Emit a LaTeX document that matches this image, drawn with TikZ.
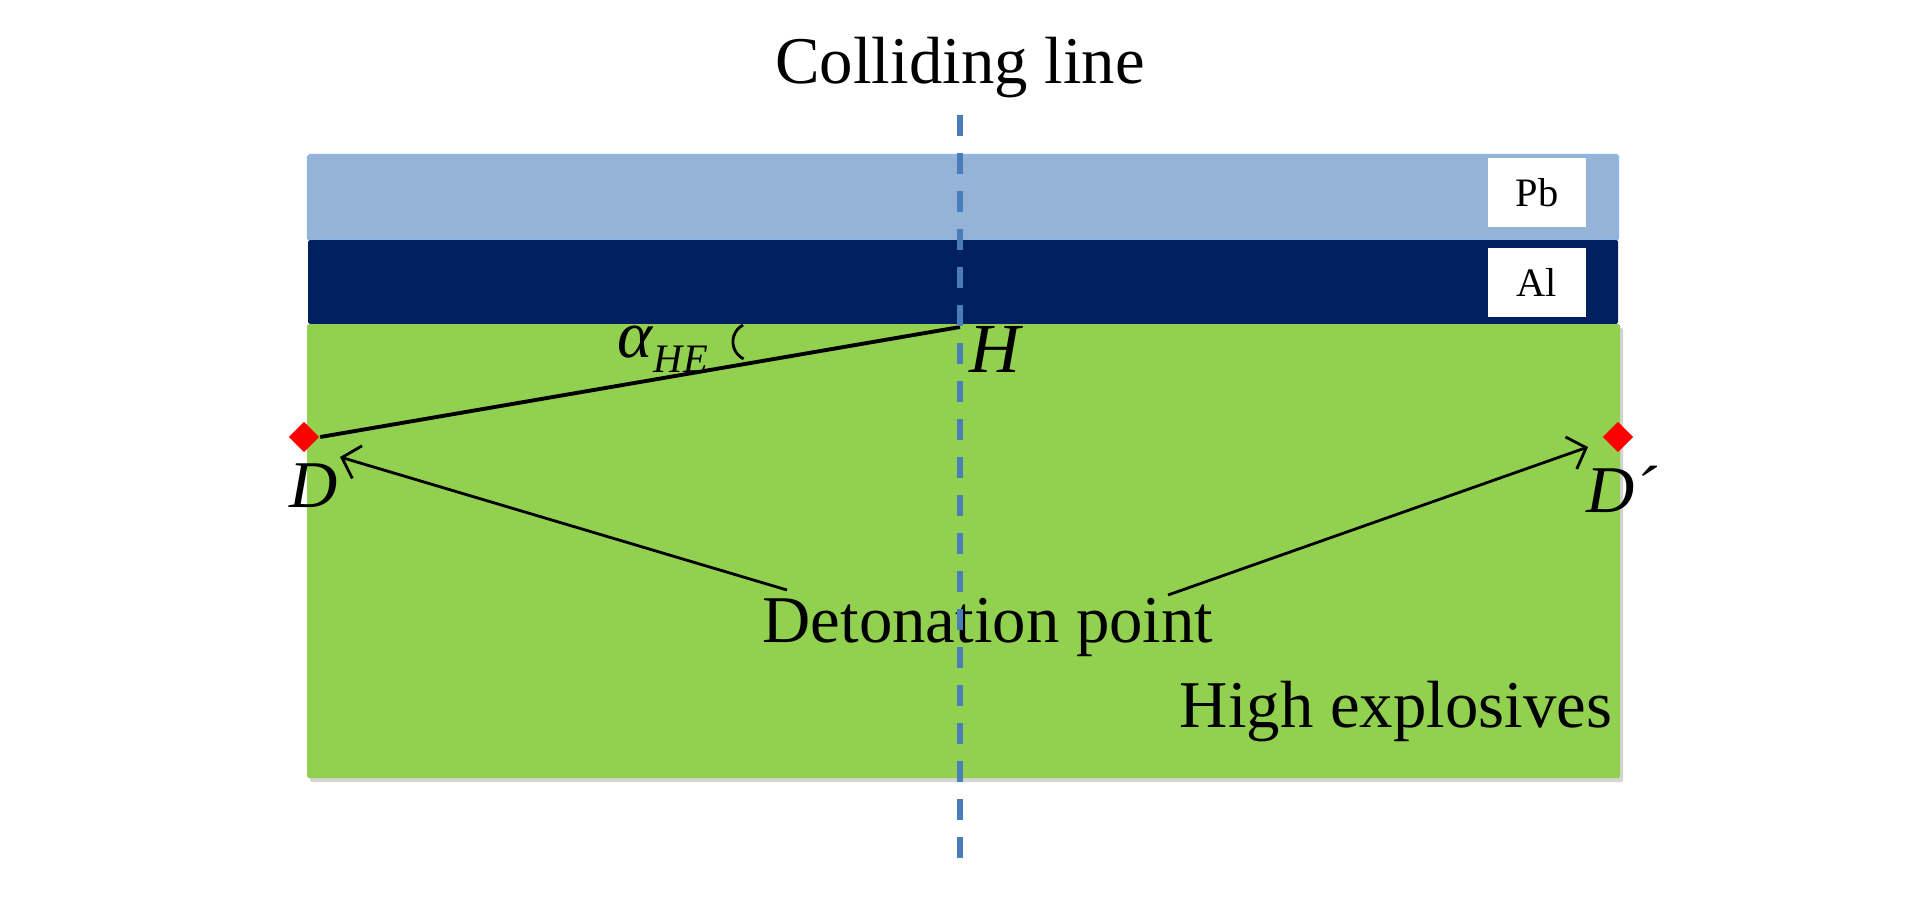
\documentclass[tikz,border=0pt]{standalone}
\usepackage{fontspec}
\setmainfont{Liberation Serif}
\usepackage{tikz}
\usetikzlibrary{shapes.geometric,arrows.meta,shadows,positioning}

\definecolor{pbblue}{HTML}{95B3D7}
\definecolor{pbedge}{HTML}{8EB4E3}
\definecolor{alnavy}{HTML}{002060}
\definecolor{hegreen}{HTML}{92D050}
\definecolor{lineblue}{HTML}{4A7EBB}

\begin{document}
\begin{tikzpicture}[
    layer/.style={rounded corners=0.5pt},
    tag/.style={draw=none, fill=white, minimum width=0.98cm, minimum height=0.69cm, inner sep=0pt, font=\fontsize{11.5}{13}\selectfont},
    bigtext/.style={inner sep=0pt, font=\fontsize{19}{22}\selectfont},
    point/.style={diamond, fill=red, minimum size=0.31cm, inner sep=0pt},
    pointer/.style={-{Straight Barb[length=1.6mm,width=3.4mm]}, line width=0.8pt},
    collide/.style={lineblue, line width=1.8pt, dash pattern=on 0.21cm off 0.17cm}
]
    \useasboundingbox (0,0) rectangle (19.23,-9.09);

    % layers: lead, aluminium, explosive
    \fill[layer, pbblue, draw=pbedge, line width=0.6pt] (3.08,-1.55) rectangle (16.18,-2.40);
    \fill[layer, alnavy] (3.08,-2.40) rectangle (16.18,-3.24);
    \fill[layer, hegreen, drop shadow={opacity=0.35, shadow xshift=0.03cm, shadow yshift=-0.04cm}] (3.07,-3.24) rectangle (16.20,-7.78);

    % material tags
    \node[tag] (pbtag) at (15.37,-1.925) {Pb};
    \node[tag] (altag) at (15.37,-2.825) {Al};

    % detonation points and the line to H
    \node[point] (D) at (3.04,-4.37) {};
    \node[point] (Dp) at (16.18,-4.37) {};
    \coordinate (H) at (9.60,-3.27);
    \draw[line width=1.1pt] (D.east) -- (H);

    % angle mark
    \draw[line width=0.8pt] (7.43,-3.25) arc[start angle=118, end angle=244, radius=0.19];

    % labels
    \node[bigtext, anchor=base] (Dlab) at (3.14,-5.07) {\textit{D}};
    \node[bigtext, anchor=base] (Dplab) at (16.22,-5.12) {\textit{D´}};
    \node[bigtext, anchor=base, font=\fontsize{20}{22}\selectfont] (Hlab) at (9.96,-3.72) {\textit{H}};
    \node[bigtext, anchor=base west] (alpha) at (6.17,-3.57) {\textit{α}\raisebox{-0.15cm}{\fontsize{11.5}{13}\selectfont\textit{HE}}};
    \node[bigtext, anchor=base] (title) at (9.60,-0.83) {Colliding line};
    \node[bigtext, anchor=base] (det) at (9.88,-6.42) {Detonation point};
    \node[bigtext, anchor=base] (he) at (13.96,-7.27) {High explosives};

    % arrows from the label to both points
    \coordinate (detL) at (7.87,-5.90);
    \coordinate (detR) at (11.68,-5.95);
    \coordinate (tipL) at (3.40,-4.57);
    \coordinate (tipR) at (15.88,-4.47);
    \draw[pointer] (detL) -- (tipL);
    \draw[pointer] (detR) -- (tipR);

    % colliding line
    \coordinate (ctop) at (9.60,-1.15);
    \coordinate (cbot) at (9.60,-8.71);
    \draw[collide] (ctop) -- (cbot);
\end{tikzpicture}
\end{document}
